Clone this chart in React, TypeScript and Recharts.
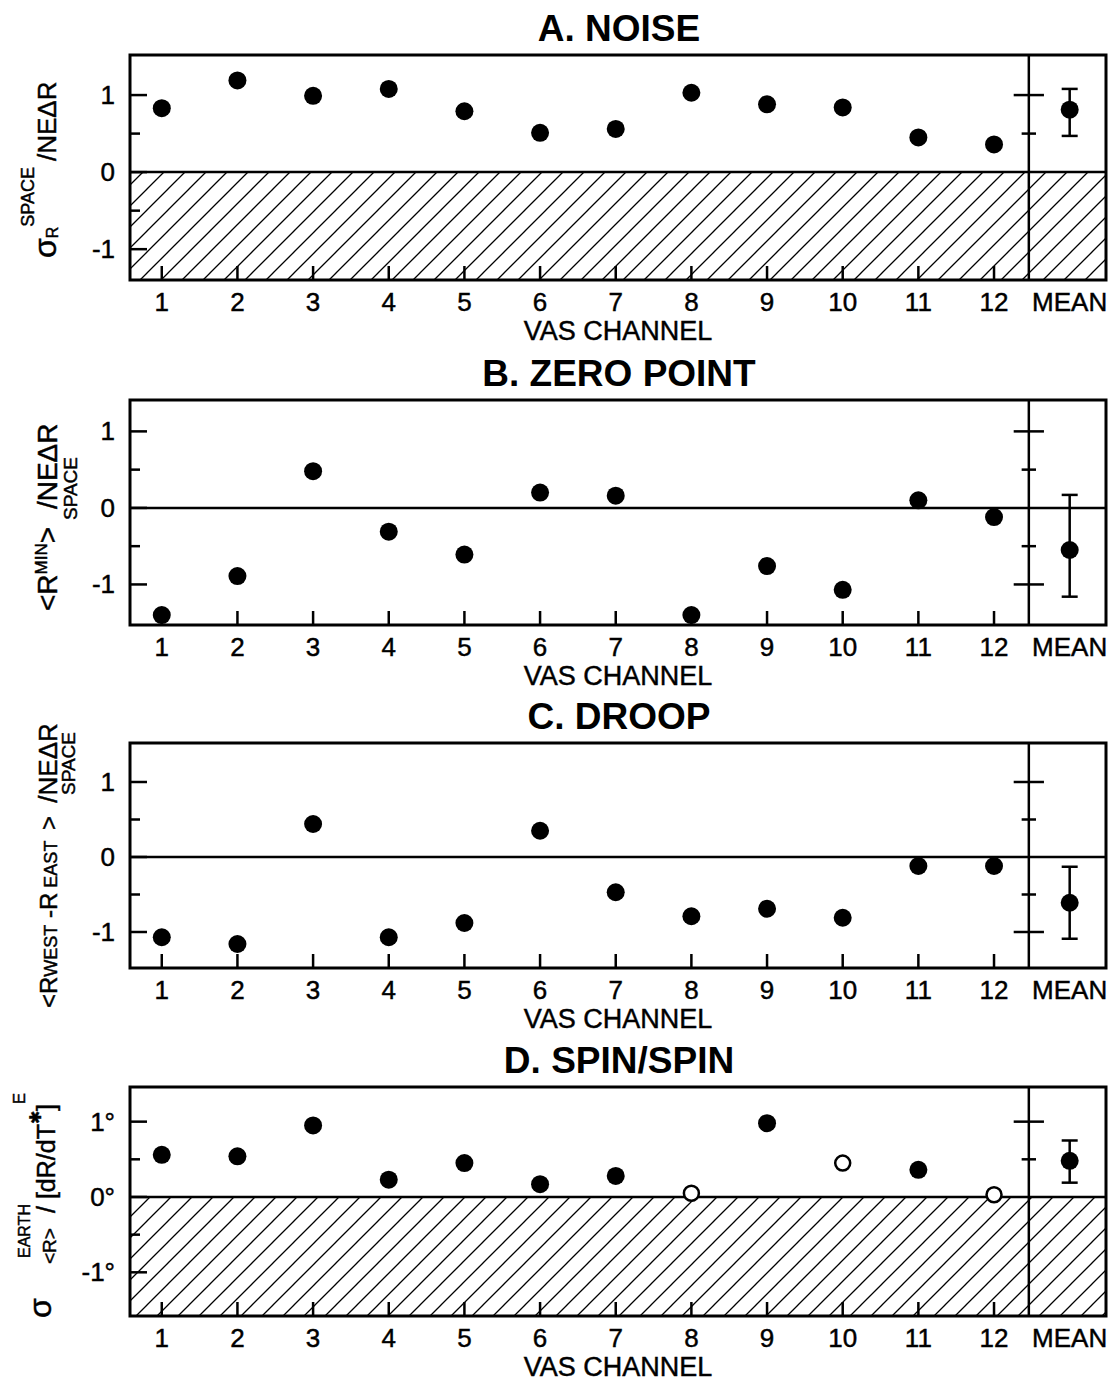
import React from 'react';
import {
  ErrorBar,
  ReferenceArea,
  ReferenceLine,
  Scatter,
  ScatterChart,
  XAxis,
  YAxis,
} from 'recharts';

// VAS channels 1..12, tick 13 is the MEAN column
const channels = [1, 2, 3, 4, 5, 6, 7, 8, 9, 10, 11, 12];
const xTicks = [1, 2, 3, 4, 5, 6, 7, 8, 9, 10, 11, 12, 13];
const yTicks = [-1, -0.5, 0, 0.5, 1];

// A. noise
const noise = [0.83, 1.19, 0.99, 1.08, 0.79, 0.51, 0.56, 1.03, 0.88, 0.84, 0.45, 0.36];
const noiseMean = [0.47, 0.81, 1.08]; // low, mean, high

// B. zero point
const zeroPoint = [-1.4, -0.89, 0.48, -0.31, -0.61, 0.2, 0.16, -1.4, -0.76, -1.07, 0.1, -0.12];
const zeroPointMean = [-1.16, -0.55, 0.17];

// C. droop
const droop = [-1.07, -1.16, 0.44, -1.07, -0.88, 0.35, -0.47, -0.79, -0.69, -0.81, -0.12, -0.12];
const droopMean = [-1.09, -0.61, -0.13];

// D. spin/spin (open symbols on channels 8, 10, 12)
const spin = [0.56, 0.54, 0.95, 0.23, 0.45, 0.17, 0.28, 0.05, 0.98, 0.45, 0.36, 0.03];
const spinOpen = [8, 10, 12];
const spinMean = [0.19, 0.48, 0.75];

const X_DOMAIN: [number, number] = [0.58, 13.48];
const MEAN_X = 13;
const DIVIDER_X = 12.46;
const FONT = '"Liberation Sans", Arial, Helvetica, sans-serif';
const INK = '#000';
const TOP = 55;
const X_AXIS_H = 75;

type PanelProps = {
  id: string;
  title: string;
  values: number[];
  mean: number[];
  open?: number[];
  domain: [number, number];
  hatch: boolean;
  dividerTicks: number[];
  unit: string;
  offset: number;
  boxHeight: number;
  label: React.ReactNode;
};

const heavy = { stroke: INK, strokeWidth: 0.45 };

function YTick({ x, y, payload, unit }: any) {
  const v = payload.value;
  const major = Number.isInteger(v);
  return (
    <g>
      <line x1={x} x2={x + (major ? 17 : 10)} y1={y} y2={y} stroke={INK} strokeWidth={2.5} />
      {major && (
        <text
          x={x - 15}
          y={y}
          textAnchor="end"
          dominantBaseline="central"
          fontSize={26}
          fontFamily={FONT}
          fill={INK}
          {...heavy}
        >
          {v}
          {unit}
        </text>
      )}
    </g>
  );
}

function XTick({ x, y, payload }: any) {
  const v = payload.value;
  return (
    <g>
      {v <= 12 && <line x1={x} x2={x} y1={y} y2={y - 14} stroke={INK} strokeWidth={2.5} />}
      <text
        x={x}
        y={y + 22}
        textAnchor="middle"
        dominantBaseline="central"
        fontSize={26}
        fontFamily={FONT}
        fill={INK}
        {...heavy}
      >
        {v === MEAN_X ? 'MEAN' : v}
      </text>
    </g>
  );
}

const dot = (p: any) =>
  p.payload?.open ? (
    <circle cx={p.cx} cy={p.cy} r={7.5} fill="#fff" stroke={INK} strokeWidth={2.5} />
  ) : (
    <circle cx={p.cx} cy={p.cy} r={9} fill={INK} />
  );

function Panel(props: PanelProps) {
  const { id, title, values, mean, open = [], domain, hatch, dividerTicks, unit, offset, boxHeight, label } = props;
  const points = channels.map((c, i) => ({ x: c, y: values[i], open: open.includes(c) }));
  const meanPoint = [{ x: MEAN_X, y: mean[1], err: [mean[1] - mean[0], mean[2] - mean[1]] }];
  const height = TOP + boxHeight + X_AXIS_H;

  return (
    <div style={{ position: 'absolute', left: 0, top: offset }}>
      <ScatterChart width={1111} height={height} margin={{ top: TOP, right: 5, left: 0, bottom: 0 }}>
        <defs>
          <pattern id={`hatch-${id}`} patternUnits="userSpaceOnUse" width={21} height={21}>
            <path d="M0,21 L21,0 M-6,6 L6,-6 M15,27 L27,15" stroke={INK} strokeWidth={1.3} />
          </pattern>
        </defs>
        <XAxis
          type="number"
          dataKey="x"
          domain={X_DOMAIN}
          ticks={xTicks}
          interval={0}
          allowDataOverflow
          axisLine={false}
          tickLine={false}
          tickSize={0}
          tickMargin={0}
          height={X_AXIS_H}
          tick={<XTick />}
          label={{
            content: (p: any) => (
              <text
                x={p.viewBox.x + p.viewBox.width / 2}
                y={p.viewBox.y + 51}
                textAnchor="middle"
                dominantBaseline="central"
                fontSize={27}
                fontFamily={FONT}
                fill={INK}
                {...heavy}
              >
                VAS CHANNEL
              </text>
            ),
          }}
        />
        <YAxis
          type="number"
          dataKey="y"
          domain={domain}
          ticks={yTicks}
          interval={0}
          allowDataOverflow
          axisLine={false}
          tickLine={false}
          tickSize={0}
          tickMargin={0}
          width={130}
          tick={<YTick unit={unit} />}
        />
        {hatch && (
          <ReferenceArea
            x1={X_DOMAIN[0]}
            x2={X_DOMAIN[1]}
            y1={domain[0]}
            y2={0}
            fill={`url(#hatch-${id})`}
            fillOpacity={1}
            stroke="none"
          />
        )}
        <ReferenceArea
          x1={X_DOMAIN[0]}
          x2={X_DOMAIN[1]}
          y1={domain[0]}
          y2={domain[1]}
          fill="none"
          stroke={INK}
          strokeWidth={3}
        />
        <ReferenceLine y={0} stroke={INK} strokeWidth={2.5} />
        <ReferenceLine x={DIVIDER_X} stroke={INK} strokeWidth={2.5} />
        {dividerTicks.map((t) => {
          const half = Number.isInteger(t) ? 0.2 : 0.095;
          return (
            <ReferenceLine
              key={t}
              segment={[
                { x: DIVIDER_X - half, y: t },
                { x: DIVIDER_X + half, y: t },
              ]}
              stroke={INK}
              strokeWidth={2.5}
            />
          );
        })}
        <Scatter data={points} shape={dot} isAnimationActive={false} />
        <Scatter data={meanPoint} shape={dot} isAnimationActive={false}>
          <ErrorBar dataKey="err" direction="y" width={8} stroke={INK} strokeWidth={2.5} />
        </Scatter>
        <text
          x={619}
          y={TOP - 27}
          textAnchor="middle"
          dominantBaseline="central"
          fontSize={37}
          fontWeight="bold"
          fontFamily={FONT}
          fill={INK}
        >
          {title}
        </text>
        {label}
      </ScatterChart>
    </div>
  );
}

const txt = { fontFamily: FONT, fill: INK, ...heavy };

const labelA = (
  <g transform="translate(56,258) rotate(-90)">
    <text x={0} y={0} fontSize={26} {...txt}>
      <tspan fontSize={32}>σ</tspan>
      <tspan fontSize={16} dy={2}>R</tspan>
      <tspan fontSize={18} dy={-24}>SPACE</tspan>
      <tspan fontSize={26} dx={6} dy={22}>/NEΔR</tspan>
    </text>
  </g>
);

const labelB = (
  <g>
    <g transform="translate(57,266) rotate(-90)">
      <text x={0} y={0} fontSize={28} {...txt}>
        <tspan>&lt;R</tspan>
        <tspan fontSize={17} dy={-10}>MIN</tspan>
        <tspan dy={10}>&gt;</tspan>
        <tspan dx={10}> /NEΔR</tspan>
      </text>
    </g>
    <g transform="translate(77,175) rotate(-90)">
      <text x={0} y={0} fontSize={19} {...txt}>
        SPACE
      </text>
    </g>
  </g>
);

const labelC = (
  <g>
    <g transform="translate(57,320) rotate(-90)">
      <text x={0} y={0} fontSize={24} {...txt}>
        <tspan>&lt;R</tspan>
        <tspan fontSize={18}>WEST</tspan>
        <tspan> -R</tspan>
        <tspan fontSize={18}> EAST</tspan>
        <tspan dx={4}> &gt;</tspan>
        <tspan dx={6} fontSize={26}> /NEΔR</tspan>
      </text>
    </g>
    <g transform="translate(75,107) rotate(-90)">
      <text x={0} y={0} fontSize={19} {...txt}>
        SPACE
      </text>
    </g>
  </g>
);

const labelD = (
  <g>
    <g transform="translate(51,286) rotate(-90)">
      <text x={0} y={0} fontSize={32} {...txt}>
        σ
      </text>
    </g>
    <g transform="translate(56,232) rotate(-90)">
      <text x={0} y={0} fontSize={19} {...txt}>
        &lt;R&gt;
      </text>
    </g>
    <g transform="translate(30,226) rotate(-90)">
      <text x={0} y={0} fontSize={16} {...txt}>
        EARTH
      </text>
    </g>
    <g transform="translate(55,181) rotate(-90)">
      <text x={0} y={0} fontSize={25} {...txt}>
        <tspan>/ [dR/dT</tspan>
        <tspan fontSize={16} dy={-14}>✱</tspan>
        <tspan dy={14}>]</tspan>
        <tspan fontSize={17} dy={-30}>E</tspan>
      </text>
    </g>
  </g>
);

export default function App() {
  return (
    <div style={{ position: 'absolute', left: 0, top: 0, width: 1111, height: 1394, background: '#fff', overflow: 'hidden' }}>
      <Panel
        id="a"
        title="A. NOISE"
        values={noise}
        mean={noiseMean}
        domain={[-1.4, 1.52]}
        hatch
        dividerTicks={[1, 0.5]}
        unit=""
        offset={0}
        boxHeight={225}
        label={labelA}
      />
      <Panel
        id="b"
        title="B. ZERO POINT"
        values={zeroPoint}
        mean={zeroPointMean}
        domain={[-1.53, 1.41]}
        hatch={false}
        dividerTicks={[1, 0.5, -0.5, -1]}
        unit=""
        offset={345}
        boxHeight={225}
        label={labelB}
      />
      <Panel
        id="c"
        title="C. DROOP"
        values={droop}
        mean={droopMean}
        domain={[-1.48, 1.52]}
        hatch={false}
        dividerTicks={[1, 0.5, -0.5, -1]}
        unit=""
        offset={688}
        boxHeight={225}
        label={labelC}
      />
      <Panel
        id="d"
        title="D. SPIN/SPIN"
        values={spin}
        mean={spinMean}
        open={spinOpen}
        domain={[-1.58, 1.46]}
        hatch
        dividerTicks={[1, 0.5]}
        unit="°"
        offset={1032}
        boxHeight={229}
        label={labelD}
      />
    </div>
  );
}
